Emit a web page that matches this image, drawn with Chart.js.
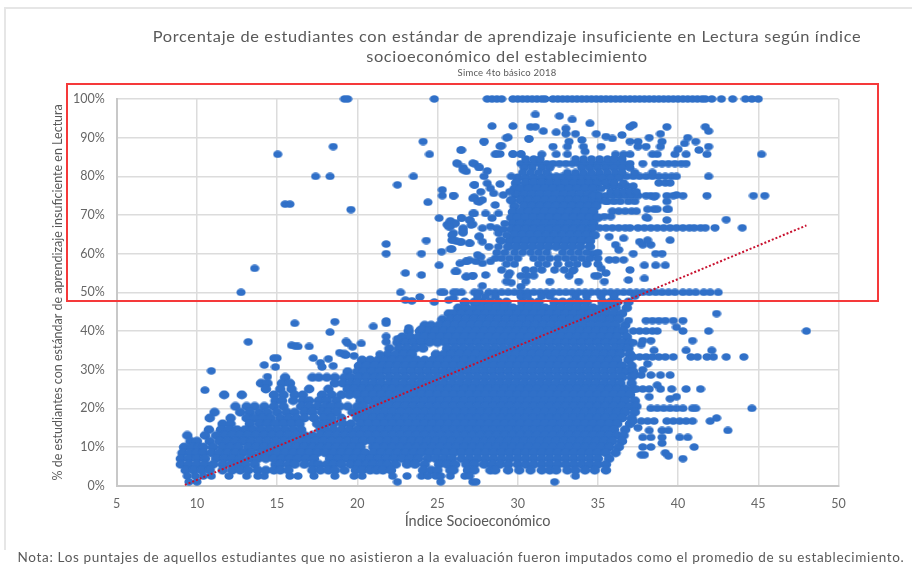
<!DOCTYPE html>
<html lang="es"><head><meta charset="utf-8">
<script src="https://cdn.jsdelivr.net/npm/chart.js@4"></script>
<style>
html,body{margin:0;padding:0;background:#fff;width:912px;height:572px;overflow:hidden}
#wrap{position:relative;width:912px;height:572px}
canvas{position:absolute;left:0;top:0}
.t{position:absolute;white-space:nowrap;font-family:Lato,sans-serif;color:#595959;transform:translateX(-50%);text-align:center}
.w{transform:translateX(-50%) scaleX(1.057)}
#frame{position:absolute;left:4px;top:7px;width:908px;height:543px;border-top:2px solid #e6e6e6;border-left:2px solid #e6e6e6;box-sizing:border-box}
#red{position:absolute;left:66px;top:83px;width:813px;height:219px;border:2px solid #f5393a;box-sizing:border-box;pointer-events:none}
</style></head><body>
<div id="wrap">
<div id="frame"></div>
<canvas id="c" width="912" height="572"></canvas>
<div id="red"></div>
<div class="t w" style="left:507px;top:27px;font-size:15.5px;letter-spacing:.62px">Porcentaje de estudiantes con estándar de aprendizaje insuficiente en Lectura según índice</div>
<div class="t w" style="left:507px;top:47px;font-size:15.5px;letter-spacing:.62px">socioeconómico del establecimiento</div>
<div class="t" style="left:507px;top:67px;font-size:9.5px;letter-spacing:.2px">Simce 4to básico 2018</div>
<div class="t" style="left:461px;top:549px;font-size:13.5px;letter-spacing:.66px">Nota: Los puntajes de aquellos estudiantes que no asistieron a la evaluación fueron imputados como el promedio de su establecimiento.</div>
</div>
<script>
const xTicks = [5,10,15,20,25,30,35,40,45,50];
const yTicks = [0,10,20,30,40,50,60,70,80,90,100];
const trendX = [9.25,48.0];
const trendY = [0.2,67.3];

// discrete high rows
const y100 = [19.2,19.4,24.8,28.1,28.4,28.7,29,29.7,30,30.3,30.6,30.9,31.2,31.5,31.7,32.2,32.5,32.8,33.1,33.4,33.7,34,34.3,34.6,34.9,35.2,35.5,35.8,36.1,36.4,36.7,37,37.3,37.6,37.9,38.2,38.5,38.8,39.1,39.4,39.7,40,40.3,40.6,40.9,41.2,41.5,41.7,42.1,42.7,43.4,44.2,44.6,45];
const y50 = [12.75,22.7,25.2,25.4,26,26.2,26.5,27.3,27.6,28.2,28.6,29,29.4,29.8,30.2,30.6,31,31.4,31.8,32.2,32.6,33,33.4,33.8,34.2,34.6,35,35.4,35.8,36.2,36.6,37,37.4,37.8,38.2,38.6,39,39.4,39.8,40.3,40.7,41.1,41.6,42,42.5];
const y667 = [34.7,35.1,35.5,35.9,36.3,36.7,37,37.5,37.9,38.3,38.7,39.1,39.5,39.9,40.3,40.7,41,41.4,41.7,42.3,44];
const y75 = [34.7,35.1,35.5,35.9,36.3,36.7,37.1,37.5,38,38.3,38.6,39.3,39.7,40.3,41.8,44.7,45.4];
const y80 = [17.4,18.3,23.5,32,32.4,32.8,33.2,33.6,34,34.4,34.8,35.2,35.6,36,36.4,36.8,37.2,37.6,38,38.4,38.8,39.2,39.6,39.9,41.9];
const y833 = [26.25,27.3,30.2,30.6,31,31.4,31.8,32.2,32.6,33,33.4,33.8,34.2,34.6,35,35.4,35.8,36.2,36.6,37,37.8,38.6,39,39.4,39.8,40.2,40.5];
const y857 = [15.04,24.5,28.6,29.7,30.2,31.5,32.4,33.1,36.1,36.6,37,38.4,38.7,39.8,40.5,41.8,45.2];

// scattered marks above 50 %
const scatterHighX = [31.1,32.6,33.4,34.5,28.4,29.7,30.8,31.1,33,37.2,37,39.3,41.7,41.9,31.6,32.4,33,33.6,34.9,38.9,29.3,30.7,27.9,34,33.2,35.5,35.9,36.5,38.2,39,40.6,41.1,40.4,28.9,32.2,33.1,34.1,35.2,37,37.5,37.5,38,38.9,41.9,40,41.3,34.2,18.5,15.5,15.8,19.6,13.6,24.1,26.5,26.6,26.8,27.6,22.5,25.3,25.3,26,27.3,27.3,27.6,24.4,27.3,25.1,26.5,27,25.8,25.6,26.1,25.8,27.2,26.6,26.6,26,25.9,26.2,26.5,27,27.6,24.3,21.8,21.8,24,25.25,25.9,25.1,26.8,27,26.2,23,24,26.8,27.2,23,23.4,23.9,24.8,25.7,26,26.7,27.4,43,38.1,38.5,39.3];
const scatterHighY = [96,95.6,94.7,93.7,93,93,92.8,92.8,92.4,93.3,92.8,92.8,92.8,91.7,91.7,91.4,91,91,91,91,90,89.7,89,89.4,89,90.3,89.8,90.7,90,89,90,89,88.5,87.8,87.7,87.7,87.7,87.7,89,89,87.7,87.7,87.7,87.7,87,86.8,86.4,87.7,72.8,72.8,71.4,56.2,89,86.8,82.3,81.3,82.3,77.8,76.5,75,75,77.8,74.6,73.4,73.3,70.4,69.2,69.2,68.7,68.2,67.5,67.8,67,67.6,66.2,65.4,65.3,63.5,63.2,63,62.7,64.5,63.4,62.5,60,60,60.5,61.2,57,58,58.3,55.4,55,54.5,54,54.3,48,47.8,48.8,47.5,48,48.5,47.5,47.5,68.8,69.2,71.5,71.5];

const fringeX = [26.45,27.9,29.4,30.7,29,28.9,28.7,29.7,30.2,26.2,26.6,27.2,27.6,28.1,27.9,27.3,26,28.1,27.7,28.9,29.1,28.5,28.3,27.2,27.5,27.8,28.6,29.6,29.5,29.6,28,28.4,28.8,27.2,26.5,27,27.1,25.8,26.1,25.7,26.6,26.6,25.9,26,26.4,27,27.8,28.3,28.7,27.6,27.8,28.2,28.9,28.8,27.5,27.8,27.4,27.7,28.3,26.8,26.4,25.8,26.1,26.8,27.2,28,27.8,29.6,29.5,30.2,38.1,38.7,39.4,38,39.3,38.5,39.3,39.9,35.7,36.6,36.1,36.3,37.2,37.6,37.8,38.3,38.1,38.6,39,39.5,35.7,36.1,36.6,37,37.9,38.6,39.2,36.9,37.9,34.8,35.5,35.2,33.4,34.3,34.7,35.6,36,36.4,36.8,37.2,35.8,36.2,36.6,37,37.4,35.6,36,36.4,36.9,37.3,35.5,35.9,36.3,36.7,37.1,37.4,35.4,35.8,36.2,36.6,37,37.4,37.7];
const fringeY = [86.8,89,90.1,89.7,87.9,85.8,85.8,85.8,85.8,83.4,81.7,83.4,82.3,81.4,80,77.8,75,78.2,76,78,75.2,75.6,76.9,74.3,73.5,73.9,72.6,80,76,73.9,70.4,69.2,70.4,70.4,69.2,68.7,67.4,68.5,67.9,67,66.6,65.6,64.8,63.5,63.1,62.7,66.6,67,66.6,64.4,63.1,61.8,63.5,65.3,59.7,57.5,58,59.2,58,58,57.5,61.2,55.4,54.1,54.3,54.5,51.7,52.5,55,51.5,71.5,71.5,71.5,69.4,68.7,74.7,73.5,75.2,64.4,64,62.3,61,60,63.1,62.3,62.3,63.5,60,60,63.5,58.4,58.4,58.4,55.8,57,57,57,53.2,53.6,54.3,55,56.2,55.5,57.5,60,77.5,77.5,77.5,77.5,77.5,76,76,76,76,76,73.5,73.5,73.5,73.5,73.5,73.5,71,71,71,71,71,69.6,69.6];

// dense rows of the upper cloud
const upperLevels = [84.5,82.2,81,79.6,78.3,76.8,75.3,73.8,72.3,70.8,69.3,67.8,66.3,64.8,63.3,61.8,60.3,58.8,57.3,55.8,54.3,52.8];
const upperRows = [
[30.5,31,31.4,33.6,34.1,34.6,35.1,35.6,36,36.5],
[30.4,30.9,31.5,32,34,34.5,35,35.5,36,36.5,37],
[30.3,30.8,31.3,31.8,33.1,33.6,34.1,34.6,35.1,35.6,36.1,36.5,37.3,38.4],
[30,30.5,31,31.5,32,32.5,33,33.5,34,34.5,35,35.3,35.8,36.3],
[29.9,30.5,31,31.5,32,32.5,33,33.5,34,34.5,35,35.5,36,36.6,38.8,39.2,39.5],
[29.8,30.2,30.7,31.2,31.7,32.2,32.7,33.2,33.7,34.2,34.7,35.2],
[29.9,30.4,30.9,31.4,31.9,32.4,32.9,33.4,33.9,34.4,34.9],
[29.6,30.2,30.7,31.2,31.7,32.2,32.7,33.2,33.7,34.2,34.7,35.1],
[29.8,30.4,30.9,31.4,31.9,32.4,32.9,33.4,33.9,34.4,34.9],
[29.7,30.2,30.7,31.2,31.7,32.2,32.7,33.2,33.7,34.2,34.7],
[29.6,30,30.5,31,31.5,32,32.5,33,33.5,34,34.5,35],
[29.2,29.7,30.2,30.7,31.2,31.7,32.2,32.7,33.2,33.7,34.2,34.7],
[29.1,29.6,30,30.5,31,31.5,32,32.5,33,33.5,34,34.5],
[29.3,29.8,30.3,30.8,31.3,31.8,32.3,32.8,33.3,33.8,34.3,34.8],
[29,29.5,30,30.5,31,31.5,32,32.5,33,33.5,34,34.5],
[28.8,29.4,29.9,30.4,30.9,31.4,31.9,32.4,32.9,33.4,33.9,34.5],
[28.7,29.2,29.8,30.3,30.8,31.3,31.8,32.8,33.3,33.8,34.3,35],
[28.6,29,29.5,30,31,31.5,32,32.5,33,33.5,34,34.5,35],
[29.3,29.8,31.3,31.8,32.5,33.2,33.7,34.3,35],
[29,30.5,31,31.5,32.3,32.9,33.5],
[29.4,30.2,30.6,31,33.2,35],
[29.3,30.5,32,33.8,35.4]
];

// dense rows of the lower cloud
const lowerLevels = [49,47.5,46,44.5,43,41.5,40,38.5,37,35.5,34,32.5,31,29.5,28,26.5,25,23.5,22,20.5,19,17.5,16,14.5,13,11.5,10,8.5,7,5.5,4,2.5,1];
const lowerRows = [
[27.5,28,28.6,30.2,30.6,31.5,32,33.6,34.3,35.2,36,37.3],
[26.7,27.3,27.8,28.3,28.8,29.3,30.3,30.8,31.3,32.3,32.8,33.3,33.8,34.3,35.3,35.8,36.2,36.9],
[26.3,26.8,27.3,27.7,28.2,28.7,29.2,29.7,30.2,30.7,31.2,31.7,32.2,32.7,33.2,33.7,34.2,34.7,35.2,35.6,36.1,36.8],
[25.7,26,26.5,27,27.5,28,28.5,29,29.5,30,30.5,31,31.5,32,32.5,33,33.5,34,34.5,35,35.5,36,36.5],
[25.3,25.8,26.3,26.8,27.3,27.8,28.3,28.8,29.3,29.8,30.3,30.8,31.3,31.8,32.3,32.8,33.3,33.8,34.3,34.8,35.3,35.8,36.3],
[24.2,24.6,25.1,25.6,26.1,26.6,27.1,27.6,28.1,28.6,29.1,29.6,30.1,30.6,31.1,31.6,32.1,32.6,33.1,33.6,34.1,34.6,35.1,35.6,36.1,36.7],
[23.2,23.9,24.4,24.9,25.4,25.9,26.4,26.9,27.4,27.9,28.4,28.9,29.4,29.9,30.4,30.9,31.4,31.9,32.4,32.9,33.4,33.9,34.4,34.9,35.4,35.9,36.3,36.6],
[22.8,23.3,23.8,24.2,24.7,25.2,25.7,26.2,26.7,27.2,27.7,28.2,28.7,29.2,29.7,30.2,30.7,31.2,31.7,32.2,32.7,33.2,33.7,34.2,34.7,35.2,35.7,36.2,36.8],
[22.5,23,23.5,24,24.5,25,25.5,26,26.5,27,27.5,28,28.5,29,29.5,30,30.5,31,31.5,32,32.5,33,33.5,34,34.5,35,35.5,36,36.5,37],
[22,22.6,23.1,23.6,24.1,25.6,26.1,26.6,27.1,27.6,28.1,28.6,29.1,29.6,30.1,30.6,31.1,31.6,32.1,32.6,33.1,33.6,34.1,34.6,35.1,35.6,36.1,36.5,36.9],
[19.2,21.9,22.4,22.9,23.4,24.9,25.4,25.9,26.4,26.9,27.4,27.9,28.4,28.9,29.4,29.9,30.4,30.9,31.4,31.9,32.4,32.9,33.4,33.9,34.4,34.9,35.4,35.9,36.4,37],
[20.3,20.8,21.3,21.7,22.2,22.7,23.2,23.7,24.2,24.7,25.2,25.7,26.2,26.7,27.2,27.7,28.2,28.7,29.2,29.7,30.2,30.7,31.2,31.7,32.2,32.7,33.2,33.7,34.2,34.7,35.2,35.7,36.2,36.9],
[20.1,20.6,21.1,21.6,22,22.5,23,23.5,24,24.5,25,25.5,26,26.5,27,27.5,28,28.5,29,29.5,30,30.5,31,31.5,32,32.5,33,33.5,34,34.5,35,35.5,36,36.5,37.1],
[19.4,20,20.4,20.9,21.4,21.9,22.4,22.9,23.4,23.9,24.4,24.9,25.4,25.9,26.4,26.9,27.4,27.9,28.4,28.9,29.4,29.9,30.4,30.9,31.4,31.9,32.4,32.9,33.4,33.9,34.4,34.9,35.4,35.9,36.4,36.8,37.2],
[15.5,17.2,17.6,18.1,18.6,19.2,19.6,20.1,20.6,21.1,21.5,22,22.5,23,23.5,24,24.5,25,25.5,26,26.5,27,27.5,28,28.5,29,29.5,30,30.5,31,31.5,32,32.5,33,33.5,34,34.5,35,35.5,36,36.5,37.1],
[14,14.4,15.3,15.8,18.6,19.1,19.6,20,20.5,21,21.5,22,22.4,22.9,23.4,23.9,24.4,24.9,25.4,25.9,26.4,26.9,27.4,27.9,28.4,28.9,29.4,29.9,30.4,30.9,31.4,31.9,32.4,32.9,33.4,33.9,34.4,34.9,35.4,35.9,36.4,37.1],
[14.3,15.2,15.9,17,18.2,19.4,19.8,20.3,20.8,21.3,21.8,22.2,22.7,23.2,23.7,24.2,24.7,25.2,25.7,26.2,26.7,27.2,27.7,28.2,28.7,29.2,29.7,30.2,30.7,31.2,31.7,32.2,32.7,33.2,33.7,34.2,34.7,35.2,35.7,36.2,36.7,37.2],
[11.7,12.8,14.8,15.4,16.1,16.6,17.8,18.4,19,19.5,20,20.5,21,21.5,22,22.5,23,23.5,24,24.5,25,25.5,26,26.5,27,27.5,28,28.5,29,29.5,30,30.5,31,31.5,32,32.5,33,33.5,34,34.5,35,35.5,36,36.5,37],
[14.9,15.3,16,16.6,17,17.6,18.1,18.7,20.2,20.7,21.2,21.7,22.2,22.7,23.2,23.7,24.2,24.7,25.2,25.7,26.2,26.7,27.2,27.7,28.2,28.7,29.2,29.7,30.2,30.7,31.2,31.7,32.2,32.7,33.2,33.7,34.2,34.7,35.2,35.7,36.2,36.7,37.3],
[12.4,13.1,13.6,14.2,14.8,15.4,16.5,17,17.5,18,18.4,18.9,19.4,20,20.4,21,21.5,22,22.5,23,23.5,24,24.5,25,25.5,26,26.5,27,27.5,28,28.5,29,29.5,30,30.5,31,31.5,32,32.5,33,33.5,34,34.5,35,35.5,36,36.5,37,37.4],
[11.1,12.7,13.3,13.9,14.4,15,15.6,16.1,16.7,17.2,17.8,18.2,18.7,19.7,20.2,20.7,21.2,21.7,22.2,22.7,23.2,23.7,24.2,24.7,25.2,25.7,26.2,26.7,27.2,27.7,28.2,28.7,29.2,29.7,30.2,30.7,31.2,31.7,32.2,32.7,33.2,33.7,34.2,34.7,35.2,35.7,36.2,36.7,37.3],
[10.8,12.1,13.1,13.6,14.1,14.6,15.2,15.7,16.2,16.7,17.3,17.9,18.4,19,20,20.5,21,21.5,22,22.5,23,23.5,24,24.5,25,25.5,26,26.5,27,27.5,28,28.5,29,29.5,30,30.5,31,31.5,32,32.5,33,33.5,34,34.5,35,35.5,36,36.5,37.1],
[11.6,12.1,13.3,13.9,14.4,14.9,15.4,15.9,16.4,17.5,18,18.5,19.1,19.6,20.2,20.7,21.2,21.7,22.2,22.7,23.2,23.7,24.2,24.7,25.2,25.7,26.2,26.7,27.2,27.7,28.2,28.7,29.2,29.7,30.2,30.7,31.2,31.7,32.2,32.7,33.2,33.7,34.2,34.7,35.2,35.7,36.2,37],
[10.75,11.5,12,12.5,13,13.5,14,14.5,15,15.5,16,16.5,17.7,18,18.5,19,19.5,20,20.5,21,21.5,22,22.5,23,23.5,24,24.5,25,25.5,26,26.5,27,27.5,28,28.5,29,29.5,30,30.5,31,31.5,32,32.5,33,33.5,34,34.5,35,35.5,36,36.7],
[9.4,10.5,11.2,11.7,12.2,12.7,13.2,13.7,14.2,14.7,15.2,15.7,16.2,16.7,17.2,17.7,18.2,18.7,19.2,19.7,20.2,20.7,21.2,21.7,22.2,22.7,23.2,23.7,24.2,24.7,25.2,25.7,26.2,26.7,27.2,27.7,28.2,28.7,29.2,29.7,30.2,30.7,31.2,31.7,32.2,32.7,33.2,33.7,34.2,34.7,35.2,35.7,36.2,36.6],
[9.6,10,10.8,11.4,11.9,12.4,12.9,13.4,13.9,14.4,14.9,15.4,15.9,16.4,16.9,17.4,17.9,18.4,18.9,19.4,19.9,20.4,20.9,21.4,21.9,22.4,22.9,23.4,23.9,24.4,24.9,25.4,25.9,26.4,26.9,27.4,27.9,28.4,28.9,29.4,29.9,30.4,30.9,31.4,31.9,32.4,32.9,33.4,33.9,34.4,34.9,35.4,35.9,36.5],
[9.2,9.7,10.1,10.4,11,11.6,12.1,12.6,13.2,13.7,14.2,14.7,15.2,15.7,16.2,16.7,17.2,17.7,18.2,18.7,19.2,19.7,20.2,21,21.2,21.7,22.2,22.7,23.2,23.7,24.2,24.7,25.2,25.7,26.2,26.7,27.2,27.7,28.2,28.7,29.2,29.7,30.2,30.7,31.2,31.7,32.2,32.7,33.2,33.7,34.2,34.7,35.2,35.7,36.3],
[9.1,9.6,10,10.4,10.9,11.4,11.9,12.4,12.9,13.4,14,14.5,15,15.5,16,16.5,17,17.5,18,18.5,19,19.5,20,20.5,21,21.5,22,22.5,23,23.5,24,24.5,25,25.5,26,26.5,27,27.5,28,28.5,29,29.5,30,30.5,31,31.5,32,32.5,33,33.5,34,34.5,35,35.5,36.1],
[9,9.5,10,10.5,11.2,11.7,12.2,12.7,13.3,13.8,14.3,14.8,15.3,15.8,16.3,16.8,17.3,18.3,18.8,19.3,19.8,20.3,20.8,21.3,21.8,22.3,22.8,23.3,23.8,24.4,24.9,25.4,25.9,26.5,27,27.5,28,28.5,29,29.5,30,30.5,31,31.5,32,32.5,33,33.5,34,34.5,35,35.7],
[9,9.5,10,10.5,11,11.6,12.1,12.5,13,13.6,14.9,15.2,15.7,16.1,16.7,17.2,17.6,18.1,18.5,19,19.6,20.1,20.6,21,21.5,21.9,22.4,23.1,23.6,24.2,25.1,25.6,26.1,26.8,27.3,27.9,28.4,28.9,29.4,30,30.5,31,31.5,32,32.5,33,33.5,34,34.5,35,35.5],
[9.3,9.8,10.3,10.8,11.6,12.2,12.7,13.2,13.8,14.3,14.8,15.2,15.7,17.2,17.7,18.2,18.6,19.2,19.9,20.3,20.8,21.2,21.6,22.1,24.1,24.6,25,25.8,26,26.9,27.3,28.3,28.6,29.4,30.1,30.8,31.5,32,32.4,33.1,33.6,34.2,34.8,35.5],
[9.4,9.9,10.4,10.9,12,13.1,13.8,14.2,15.8,16.3,17.3,18.6,19.8,20.3,22.2,23.1,24,24.4,24.9,25.2,25.8,26.7,27,33.6],
[9.5,10,22.5,25.2,27.2,27.4,32.3]
];

// scattered marks below 50 %
const scatterLowX = [42.4,38,38.4,38.8,39.2,39.7,40.3,36.9,39.9,37.2,37.6,38,38.4,38.7,40.3,41.9,48,40.9,37.8,38.3,37.2,37.7,38.5,40.5,42.1,37.2,37.6,38,38.4,38.8,39.2,39.7,40.8,41.2,41.8,42.2,43,44.1,38.1,37.8,37.3,37.7,38.3,38.9,39.5,37.4,37.8,38.2,38.9,38.7,39.6,40.5,41.4,39.9,39.5,38.2,38.3,38.7,39.1,39.5,39.9,40.3,40.9,41.1,44.6,42.4,37.2,37.7,38.1,38.5,39.3,39.7,40.1,40.5,40.9,42,37.5,38.2,39,39.4,43.1,37.8,38.3,39,40.1,40.6,39,37.8,38.3,41,39.2,37.7,37.9,39.4,40.3,16.1,18.6,18.3,21,21.8,21.8,13.2,15.9,16.1,16.3,17,19.3,19.4,19.7,20.25,21.8,21.8,22.5,23.2,24,18.9,19.3,19.8,21.4,17.25,17.7,17.8,18.2,18.5,14.8,15,14.9,14.2,10.9,14.4,10.5];
const scatterLowY = [44.5,42.7,42.7,42.7,42.7,42.7,42.7,42.7,41,40,40,40,40,40,40,40,40,37.5,37.5,37.5,37,36.5,35,35,35,33.3,33.3,33.3,33.3,33.3,33.3,33.3,33.3,33.3,33.3,33.3,33.3,33.3,31.5,30,28.6,28.6,28.6,28.6,28.6,25,25,25,25,26,25,25,25,23,22.5,23,20,20,20,20,20,20,20,20,20,17.5,16.7,16.7,16.7,16.7,16.7,16.7,16.7,16.7,16.7,16.7,15,14.3,14.3,14.3,14.3,12.5,12.5,12.5,12.5,12.5,11,10,10,10,8.5,8,8,7.7,7,42,42.4,39.7,41.2,42.6,42,37.2,36.3,36.2,36,36,37.3,36.8,35.9,36.8,38.6,37.2,38,40.8,40.6,34.4,33.8,33.6,34,33,31.8,30.7,32.8,31,33,33,30.7,31.2,29.7,28.2,24.7];

function rowPoints(list, y){ return list.map(x => ({x, y})); }
// isolated marks at their normal size
const points = [
  ...rowPoints(y100,100),...rowPoints(y50,50),...rowPoints(y667,66.7),...rowPoints(y75,75),
  ...rowPoints(y80,80),...rowPoints(y833,83.3),...rowPoints(y857,85.7)
];
scatterHighX.forEach((x,i)=>points.push({x,y:scatterHighY[i]}));
fringeX.forEach((x,i)=>points.push({x,y:fringeY[i]}));
scatterLowX.forEach((x,i)=>points.push({x,y:scatterLowY[i]}));
// marks in the packed areas slightly larger so the cloud reads solid
const packed = [];
upperRows.forEach((r,i)=>r.forEach(x=>{
  const y = upperLevels[i];
  const inCore = x>=29.4 && x<=35.1 && y>=61 && y<=80;
  (inCore?packed:points).push({x,y});
}));
lowerRows.forEach((r,i)=>{
  const y = lowerLevels[i];
  const loose = y>=48 || y<=2.5;
  (loose?points:packed).push(...rowPoints(r,y));
});
const trend = trendX.map((x,i)=>({x,y:trendY[i]}));

function makeDot(w,h,a,b){
  const d = document.createElement('canvas');
  d.width = w; d.height = h;
  const g = d.getContext('2d');
  g.fillStyle = '#3070C8';
  g.beginPath(); g.ellipse(w/2,h/2,a,b,0,0,Math.PI*2); g.fill();
  return d;
}
const dot = makeDot(10,8,4.6,3.8);
const bigDot = makeDot(12,10,5.3,4.4);

const tickColor = '#666666';
const tickFont = {family:'Lato',size:12.5};
new Chart(document.getElementById('c'),{
  type:'scatter',
  data:{datasets:[
    {label:'Tendencia',data:trend,showLine:true,borderColor:'#C8102E',borderWidth:2,borderDash:[2,2],pointRadius:0,order:0,clip:false},
    {label:'Establecimientos',data:points,pointStyle:dot,pointRadius:4,backgroundColor:'#3070C8',borderWidth:0,order:1,clip:false},
    {label:'Establecimientos (zona densa)',data:packed,pointStyle:bigDot,pointRadius:4,backgroundColor:'#3070C8',borderWidth:0,order:2,clip:false}
  ]},
  options:{
    responsive:false,animation:false,
    layout:{padding:{left:50,right:73.5,top:99,bottom:40}},
    plugins:{legend:{display:false},tooltip:{enabled:false},title:{display:false}},
    scales:{
      x:{type:'linear',min:5,max:50,
        afterFit:s=>{s.height=46.3;},
        afterBuildTicks:s=>{s.ticks=xTicks.map(value=>({value}));},
        border:{color:'#c8c8c8',width:2},
        grid:{color:'#dcdcdc',lineWidth:1.5,drawTicks:false},
        ticks:{color:tickColor,font:tickFont,padding:11,maxRotation:0},
        title:{display:true,text:'Índice Socioeconómico',color:'#595959',font:{family:'Lato',size:14.5},padding:{top:0,bottom:2}}
      },
      y:{type:'linear',min:0,max:100,
        afterFit:s=>{s.width=66.7;},
        afterBuildTicks:s=>{s.ticks=yTicks.map(value=>({value}));},
        border:{color:'#c8c8c8',width:2},
        grid:{color:'#dcdcdc',lineWidth:1.5,drawTicks:false},
        ticks:{color:tickColor,font:tickFont,padding:12,callback:v=>v+'%'},
        title:{display:true,text:'% de estudiantes con estándar de aprendizaje insuficiente en Lectura',color:'#595959',font:{family:'Lato',size:12.5},padding:0}
      }
    }
  }
});
</script>
</body></html>
